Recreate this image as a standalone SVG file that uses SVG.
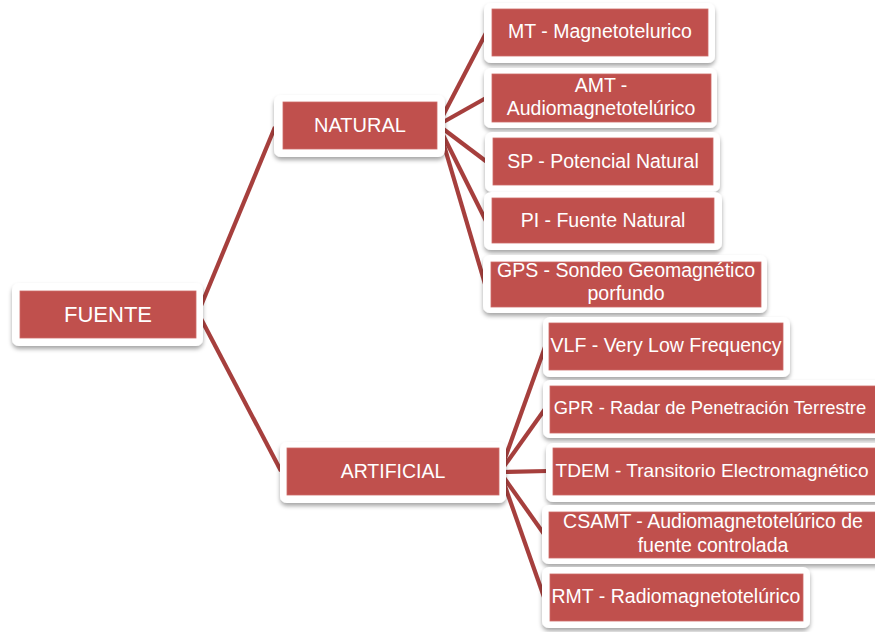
<svg xmlns="http://www.w3.org/2000/svg" width="875" height="632" viewBox="0 0 875 632">
<defs>
<filter id="sh" x="-10%" y="-20%" width="120%" height="150%">
<feDropShadow dx="0" dy="3" stdDeviation="2.2" flood-color="#000" flood-opacity="0.35"/>
</filter>
<style>
.outer{fill:#ffffff;filter:url(#sh);}
.inner{fill:#C0504D;stroke:#cd6a67;stroke-width:0.8;}
.t{font-family:"Liberation Sans",Arial,sans-serif;fill:#ffffff;text-anchor:middle;font-size:19.5px;}
.conn line{stroke:#A63F3D;stroke-width:4.2;fill:none;}
</style>
</defs>
<rect width="875" height="632" fill="#ffffff"/>
<g id="connectors" class="conn">
<line x1="198" y1="313" x2="275" y2="127"/>
<line x1="198" y1="313" x2="281" y2="471"/>
<line x1="438" y1="125" x2="486" y2="33"/>
<line x1="438" y1="125" x2="486" y2="98"/>
<line x1="438" y1="125" x2="487" y2="162"/>
<line x1="438" y1="125" x2="486" y2="221"/>
<line x1="438" y1="125" x2="485" y2="284"/>
<line x1="500" y1="472" x2="545" y2="347"/>
<line x1="500" y1="472" x2="545" y2="409"/>
<line x1="500" y1="472" x2="548" y2="471"/>
<line x1="500" y1="472" x2="544" y2="534"/>
<line x1="500" y1="472" x2="544" y2="597"/>
</g>
<g id="fuente">
<rect class="outer" x="12" y="283" width="191" height="63" rx="7"/>
<rect class="inner" x="20" y="291" width="176" height="47"/>
<text class="t" x="108" y="322" style="font-size:22px">FUENTE</text>
</g>
<g id="natural">
<rect class="outer" x="274" y="95" width="171" height="62" rx="7"/>
<rect class="inner" x="283" y="102" width="154" height="47"/>
<text class="t" x="360" y="132" style="font-size:20px">NATURAL</text>
</g>
<g id="artificial">
<rect class="outer" x="280" y="442" width="226" height="61" rx="7"/>
<rect class="inner" x="287" y="448" width="212" height="47"/>
<text class="t" x="393" y="478">ARTIFICIAL</text>
</g>
<g id="mt">
<rect class="outer" x="484" y="3" width="231" height="60" rx="7"/>
<rect class="inner" x="492" y="9" width="216" height="47"/>
<text class="t" x="600" y="38">MT - Magnetotelurico</text>
</g>
<g id="amt">
<rect class="outer" x="484" y="68" width="233" height="60" rx="7"/>
<rect class="inner" x="492" y="74" width="219" height="48"/>
<text class="t" x="601" y="92">AMT -</text>
<text class="t" x="601" y="115">Audiomagnetotelúrico</text>
</g>
<g id="sp">
<rect class="outer" x="485" y="132" width="235" height="60" rx="7"/>
<rect class="inner" x="493" y="138" width="220" height="47"/>
<text class="t" x="603" y="168">SP - Potencial Natural</text>
</g>
<g id="pi">
<rect class="outer" x="484" y="192" width="238" height="58" rx="7"/>
<rect class="inner" x="492" y="198" width="222" height="45"/>
<text class="t" x="603" y="227">PI - Fuente Natural</text>
</g>
<g id="gps">
<rect class="outer" x="483" y="255" width="284" height="58" rx="7"/>
<rect class="inner" x="491" y="262" width="270" height="45"/>
<text class="t" x="626" y="277">GPS - Sondeo Geomagnético</text>
<text class="t" x="626" y="300">porfundo</text>
</g>
<g id="vlf">
<rect class="outer" x="543" y="317" width="247" height="60" rx="7"/>
<rect class="inner" x="549" y="323" width="234" height="47"/>
<text class="t" x="666" y="352">VLF - Very Low Frequency</text>
</g>
<g id="gpr">
<rect class="outer" x="543" y="380" width="345" height="58" rx="7"/>
<rect class="inner" x="550" y="386" width="335" height="47"/>
<text class="t" x="710" y="414" style="font-size:18.4px">GPR - Radar de Penetración Terrestre</text>
</g>
<g id="tdem">
<rect class="outer" x="546" y="443" width="345" height="59" rx="7"/>
<rect class="inner" x="553" y="448" width="335" height="47"/>
<text class="t" x="712" y="477" style="font-size:19.1px">TDEM - Transitorio Electromagnético</text>
</g>
<g id="csamt">
<rect class="outer" x="542" y="505" width="345" height="59" rx="7"/>
<rect class="inner" x="549" y="512" width="335" height="46"/>
<text class="t" x="713" y="528">CSAMT - Audiomagnetotelúrico de</text>
<text class="t" x="713" y="552">fuente controlada</text>
</g>
<g id="rmt">
<rect class="outer" x="542" y="567" width="268" height="61" rx="7"/>
<rect class="inner" x="550" y="574" width="253" height="47"/>
<text class="t" x="676" y="603">RMT - Radiomagnetotelúrico</text>
</g>
</svg>
